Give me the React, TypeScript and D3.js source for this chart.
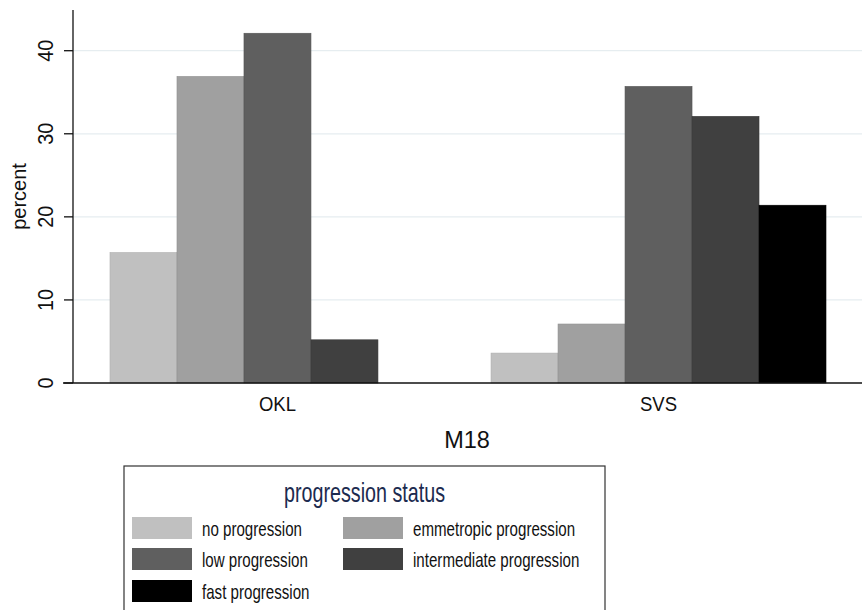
import React from "react";
import * as d3 from "d3";

const groups = ["OKL", "SVS"];
const series = [
  "no progression",
  "emmetropic progression",
  "low progression",
  "intermediate progression",
  "fast progression",
];
const colors = ["#c0c0c0", "#a0a0a0", "#5f5f5f", "#404040", "#000000"];
const okl = [15.7, 36.9, 42.1, 5.2, 0];
const svs = [3.6, 7.1, 35.7, 32.1, 21.4];
const yTicks = [0, 10, 20, 30, 40];

const W = 862;
const H = 610;
const left = 73;
const right = 862;
const top = 10;
const bottom = 383;

export default function App() {
  const values = [okl, svs];
  const y = d3.scaleLinear().domain([0, 44.9]).range([bottom, top]);
  const x0 = d3.scaleBand<string>().domain(groups).range([110, 826]).paddingInner(0.121).paddingOuter(0);
  const x1 = d3.scaleBand<string>().domain(series).range([0, x0.bandwidth()]).padding(0);
  const font = "'Liberation Sans', Arial, Helvetica, sans-serif";

  const legendX = 124;
  const legendY = 466;
  const legendW = 481;
  const colX = [132, 343];
  const rowY = [517, 548, 580];

  return (
    <div>
      <style>{`body{margin:0;background:#fff}`}</style>
      <svg width={W} height={H} style={{ display: "block", fontFamily: font }}>
        <rect x={0} y={0} width={W} height={H} fill="#ffffff" />
        {/* grid */}
        {yTicks.filter((t) => t > 0).map((t) => (
          <line key={"g" + t} x1={left} x2={right} y1={y(t)} y2={y(t)} stroke="#e6edf0" strokeWidth={1.3} />
        ))}
        {/* bars */}
        {groups.map((g, gi) => (
          <g key={g} transform={`translate(${x0(g)},0)`}>
            {series.map((s, si) => {
              const v = values[gi][si];
              if (!v) return null;
              return (
                <rect
                  key={s}
                  x={x1(s)}
                  y={y(v)}
                  width={x1.bandwidth()}
                  height={y(0) - y(v)}
                  fill={colors[si]}
                  stroke={d3.color(colors[si])!.darker(0.3).toString()}
                  strokeWidth={0.6}
                />
              );
            })}
          </g>
        ))}
        {/* axes */}
        <line x1={left} x2={left} y1={top} y2={bottom} stroke="#111" strokeWidth={1.3} />
        <line x1={63} x2={right} y1={bottom} y2={bottom} stroke="#111" strokeWidth={1.3} />
        {yTicks.map((t) => (
          <g key={"t" + t}>
            <line x1={64} x2={left} y1={y(t)} y2={y(t)} stroke="#111" strokeWidth={1.3} />
            <text
              transform={`translate(53,${y(t)}) rotate(-90) scale(0.9,1)`}
              textAnchor="middle"
              fontSize={22}
              fill="#111"
            >
              {t}
            </text>
          </g>
        ))}
        <text
          transform={`translate(26,${(top + bottom) / 2}) rotate(-90)`}
          textAnchor="middle"
          fontSize={20}
          fill="#111"
        >
          percent
        </text>
        {groups.map((g) => (
          <text
            key={"l" + g}
            transform={`translate(${x0(g)! + x0.bandwidth() / 2},411) scale(0.95,1)`}
            textAnchor="middle"
            fontSize={19.5}
            fill="#111"
          >
            {g}
          </text>
        ))}
        <text x={467} y={448} textAnchor="middle" fontSize={23.5} fill="#111">
          M18
        </text>
        {/* legend */}
        <rect x={legendX} y={legendY} width={legendW} height={170} fill="#ffffff" stroke="#333" strokeWidth={1.2} />
        <text
          transform={`translate(${legendX + legendW / 2},502) scale(0.73,1)`}
          textAnchor="middle"
          fontSize={27}
          fill="#1c2b4f"
        >
          progression status
        </text>
        {series.map((s, i) => {
          const col = i % 2;
          const row = Math.floor(i / 2);
          return (
            <g key={"lg" + s}>
              <rect x={colX[col]} y={rowY[row]} width={60} height={22} fill={colors[i]} />
              <text
                transform={`translate(${colX[col] + 70},${rowY[row] + 19}) scale(0.756,1)`}
                fontSize={20}
                fill="#111"
              >
                {s}
              </text>
            </g>
          );
        })}
      </svg>
    </div>
  );
}
